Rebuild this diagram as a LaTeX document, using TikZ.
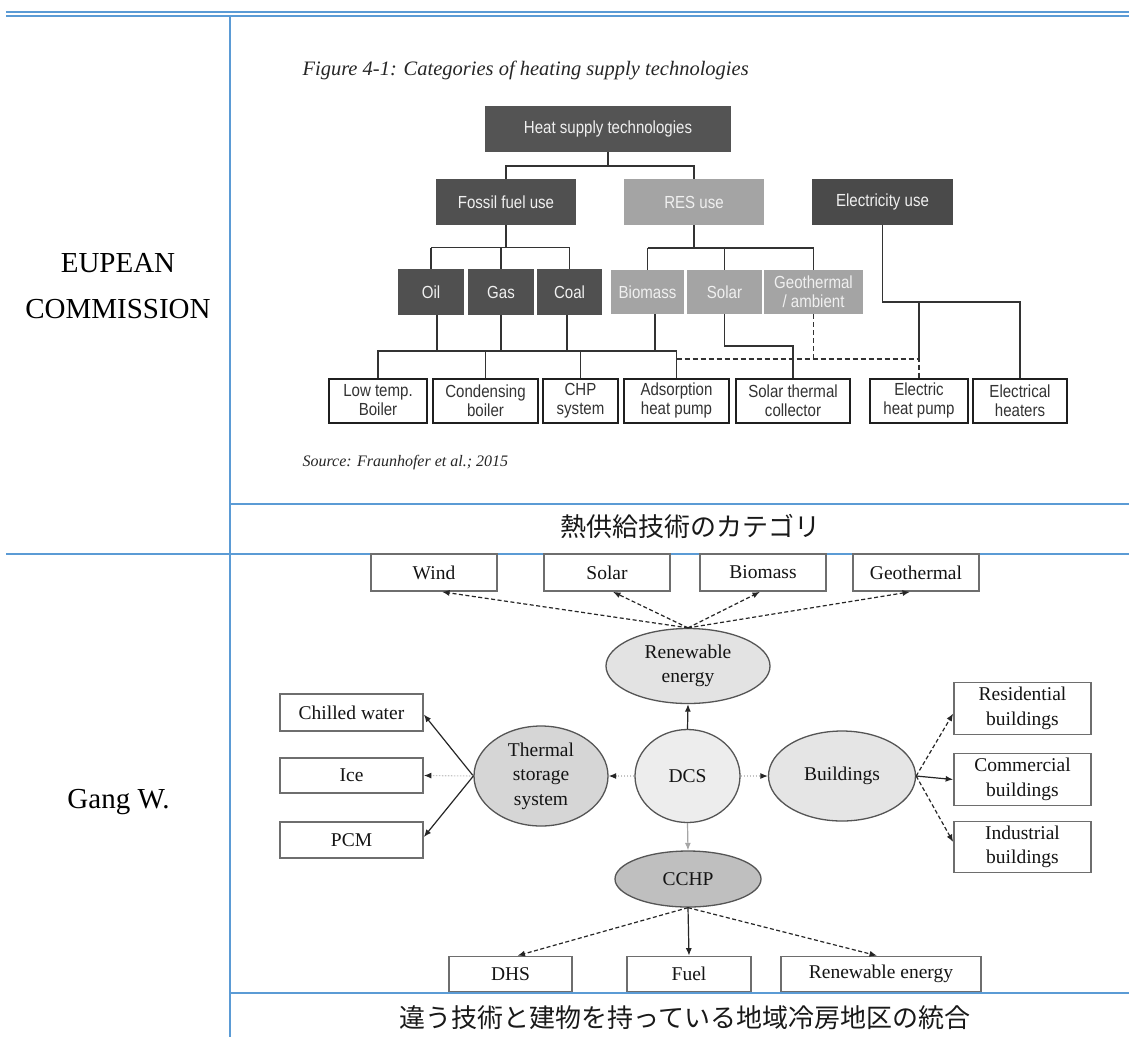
\documentclass[tikz,border=0pt]{standalone}
\usepackage{fontspec}
\setmainfont{Liberation Serif}
\newfontfamily\figsans[FakeStretch=0.86]{Liberation Sans}
\newfontfamily\jpfont{Noto Sans CJK JP}
\usetikzlibrary{shapes.geometric,arrows.meta,calc}

\definecolor{rulecol}{HTML}{5B9BD5}
\definecolor{darkfill}{HTML}{545454}
\definecolor{lightfill}{HTML}{A4A4A4}
\definecolor{treeline}{HTML}{333333}
\definecolor{lborder}{HTML}{6E6E6E}
\definecolor{ltext}{HTML}{141414}
\definecolor{ellborder}{HTML}{555555}
\definecolor{faint}{HTML}{C4C4C4}

\tikzset{
  x=1pt, y=-1pt,
  tablerule/.style={draw=rulecol, line width=#1},
  catbox/.style={fill=#1, draw=none, text=white!94!black, inner sep=0,
    minimum height=46, align=center,
    font=\figsans\fontsize{17.5}{19}\selectfont},
  techbox/.style={draw=black!88, line width=2, fill=white, text=black!80,
    inner sep=0, minimum height=44, align=center,
    font=\figsans\fontsize{17.5}{19}\selectfont},
  tree/.style={draw=treeline, line width=1.3},
  treedash/.style={draw=treeline, line width=1.3, dash pattern=on 5pt off 3pt},
  lbox/.style={draw=lborder, line width=1.7, fill=white, text=ltext,
    inner sep=0, minimum height=37, align=center,
    font=\fontsize{19.5}{24.5}\selectfont},
  lell/.style={ellipse, draw=ellborder, line width=1.3, fill=#1, text=ltext,
    inner sep=0, align=center, font=\fontsize{19.5}{24.5}\selectfont},
  tip/.style={-{Latex[length=7.5pt,width=6pt]}},
  solidarrow/.style={tip, draw=black!85, line width=1.2},
  dasharrow/.style={tip, draw=black!85, line width=1.2, dash pattern=on 4pt off 2.5pt},
  faintarrow/.style={-{Latex[length=7.5pt,width=6pt,color=black!85]}, draw=faint,
    line width=1.1, dash pattern=on 1.5pt off 1.5pt},
  greyarrow/.style={-{Latex[length=7.5pt,width=6pt]}, draw=black!35, line width=1.2},
  lefttext/.style={font=\fontsize{29}{34}\selectfont, text=black, anchor=base},
  captext/.style={font=\jpfont\fontsize{26}{30}\selectfont, text=black!90, anchor=base},
}

\begin{document}
\begin{tikzpicture}
\useasboundingbox[fill=white] (0,0) rectangle (1129,1037);

% ---------- table rules ----------
\draw[tablerule=1.4] (6,12) -- (1129,12);
\draw[tablerule=2.6] (6,15.8) -- (1129,15.8);
\draw[tablerule=2.2] (229.7,16) -- (229.7,1037);
\draw[tablerule=2] (230,503.5) -- (1129,503.5);
\draw[tablerule=2] (6,553.5) -- (1129,553.5);
\draw[tablerule=2] (230,993.3) -- (1129,993.3);

% ---------- left column ----------
\node[lefttext] (eu1) at (118,272) {EUPEAN};
\node[lefttext] (eu2) at (118,318) {COMMISSION};
\node[lefttext] (gang) at (118.5,808) {Gang W.};

% ---------- captions ----------
\node[captext] (cap1) at (690,536) {熱供給技術のカテゴリ};
\node[captext] (cap2) at (685,1027) {違う技術と建物を持っている地域冷房地区の統合};

% ---------- heat supply tree ----------
\node[anchor=base west, font=\itshape\fontsize{20.5}{24}\selectfont, text=black!85]
  (figtitle) at (299,75) {Figure 4-1: Categories of heating supply technologies};
\node[anchor=base west, font=\itshape\fontsize{16}{19}\selectfont, text=black!85]
  (source) at (299,466) {Source: Fraunhofer et al.; 2015};

\node[catbox=darkfill, minimum width=246] (heat) at (608,129) {Heat supply technologies};
\node[catbox=darkfill!95!black, minimum width=140] (fossil) at (506,202) {Fossil fuel use};
\node[catbox=lightfill, minimum width=140] (res) at (694,202) {RES use};
\node[catbox=darkfill!88!black, minimum width=141] (elec) at (882.5,202) {Electricity use};

\node[catbox=darkfill!95!black, minimum width=66] (oil) at (431,292) {Oil};
\node[catbox=darkfill!95!black, minimum width=66] (gas) at (501,292) {Gas};
\node[catbox=darkfill!95!black, minimum width=65] (coal) at (569.5,292) {Coal};
\node[catbox=lightfill, minimum width=73, minimum height=44] (biomass) at (647.5,292) {Biomass};
\node[catbox=lightfill, minimum width=75, minimum height=44] (solar) at (724.5,292) {Solar};
\node[catbox=lightfill, minimum width=99, minimum height=44] (geo) at (813.5,292) {Geothermal\\/ ambient};

\node[techbox, minimum width=98] (lowtemp) at (378,400.5) {Low temp.\\Boiler};
\node[techbox, minimum width=105] (cond) at (485.5,400.5) {Condensing\\boiler};
\node[techbox, minimum width=75] (chp) at (580.5,400.5) {CHP\\system};
\node[techbox, minimum width=105] (adsorp) at (676.5,400.5) {Adsorption\\heat pump};
\node[techbox, minimum width=114] (stc) at (793,400.5) {Solar thermal\\collector};
\node[techbox, minimum width=98] (ehp) at (919,400.5) {Electric\\heat pump};
\node[techbox, minimum width=94] (eheat) at (1020,400.5) {Electrical\\heaters};

% top level branches
\coordinate (jh) at (608,166);
\draw[tree] (heat.south) -- (jh);
\draw[tree] (jh) -| (fossil.north);
\draw[tree] (jh) -| (res.north);

% fossil fuels
\coordinate (jf) at (506,247.5);
\draw[tree] (fossil.south) -- (jf);
\draw[tree] (oil.north |- jf) -- (coal.north |- jf);
\draw[tree] (oil.north |- jf) -- (oil.north);
\draw[tree] (gas.north |- jf) -- (gas.north);
\draw[tree] (coal.north |- jf) -- (coal.north);

% renewables
\coordinate (jr) at (694,248);
\draw[tree] (res.south) -- (jr);
\draw[tree] (biomass.north |- jr) -- (geo.north |- jr);
\draw[tree] (biomass.north |- jr) -- (biomass.north);
\draw[tree] (solar.north |- jr) -- (solar.north);
\draw[tree] (geo.north |- jr) -- (geo.north);

% fuel-based technologies bus
\coordinate (bus) at (0,351);
\coordinate (oilx) at (437,351);
\coordinate (coalx) at (567,351);
\coordinate (bioxx) at (655,351);
\draw[tree] (oil.south -| oilx) -- (oilx);
\draw[tree] (gas.south) -- (gas.south |- bus);
\draw[tree] (coal.south -| coalx) -- (coalx);
\draw[tree] (biomass.south -| bioxx) -- (bioxx);
\draw[tree] (lowtemp.north) -- (lowtemp.north |- bus) -- (adsorp.north |- bus) -- (adsorp.north);
\draw[tree] (cond.north) -- (cond.north |- bus);
\draw[tree] (chp.north) -- (chp.north |- bus);

% solar thermal
\coordinate (sj) at (793,346);
\draw[tree] (solar.south) |- (sj) -- (stc.north);

% geothermal / ambient (dashed)
\coordinate (gj) at (813.5,359);
\draw[treedash] (geo.south) -- (gj);
\draw[treedash] (adsorp.north |- gj) -- (ehp.north |- gj) -- (ehp.north);

% electricity
\coordinate (ej) at (882.5,302);
\draw[tree] (elec.south) -- (ej) -- (eheat.north |- ej) -- (eheat.north);
\draw[tree] (ehp.north |- ej) -- (ehp.north |- gj);

% ---------- district cooling system ----------
\node[lbox, minimum width=126] (wind) at (434,572.5) {Wind};
\node[lbox, minimum width=126] (solarb) at (607,572.5) {Solar};
\node[lbox, minimum width=126] (biob) at (763,572.5) {Biomass};
\node[lbox, minimum width=126] (geob) at (916,572.5) {Geothermal};

\node[lell=black!11, minimum width=164, minimum height=75] (renew) at (688,666) {Renewable\\energy};
\node[lell=black!7, minimum width=105, minimum height=93] (dcs) at (687.5,776) {DCS};
\node[lell=black!16, minimum width=134, minimum height=100] (thermal) at (541,776) {Thermal\\storage\\system};
\node[lell=black!10, minimum width=147, minimum height=90] (bldg) at (842,776) {Buildings};
\node[lell=black!25, minimum width=146, minimum height=56] (cchp) at (688,879) {CCHP};

\node[lbox, minimum width=143] (chilled) at (351.5,712.5) {Chilled water};
\node[lbox, minimum width=143, minimum height=35] (ice) at (351.5,775.5) {Ice};
\node[lbox, minimum width=143, minimum height=36] (pcm) at (351.5,840) {PCM};

\node[lbox, minimum width=137, minimum height=52] (resid) at (1022.5,708.5) {Residential\\buildings};
\node[lbox, minimum width=137, minimum height=52] (comm) at (1022.5,779.5) {Commercial\\buildings};
\node[lbox, minimum width=137, minimum height=51] (indus) at (1022.5,847) {Industrial\\buildings};

\node[lbox, minimum width=123, minimum height=35] (dhs) at (510.5,974) {DHS};
\node[lbox, minimum width=124, minimum height=35] (fuel) at (689,974) {Fuel};
\node[lbox, minimum width=200, minimum height=35] (renewb) at (881,974) {Renewable energy};

% renewable sources
\draw[dasharrow] (renew.north) -- ($(wind.south)+(8,0)$);
\draw[dasharrow] (renew.north) -- ($(solarb.south)+(6,0)$);
\draw[dasharrow] (renew.north) -- ($(biob.south)+(-3,0)$);
\draw[dasharrow] (renew.north) -- ($(geob.south)+(-6,0)$);
\draw[solidarrow] (dcs.north) -- (renew.south);

% DCS links
\draw[faintarrow] (dcs.west) -- (thermal.east);
\draw[faintarrow] (dcs.east) -- (bldg.west);
\draw[greyarrow] (dcs.south) -- (cchp.north);

% thermal storage options
\draw[solidarrow] (thermal.west) -- ($(chilled.east)+(0,2)$);
\draw[faintarrow] (thermal.west) -- (ice.east);
\draw[solidarrow] (thermal.west) -- ($(pcm.east)+(0,-3)$);

% building types
\draw[dasharrow] (bldg.east) -- ($(resid.west)+(0,5)$);
\draw[solidarrow] (bldg.east) -- (comm.west);
\draw[dasharrow] (bldg.east) -- ($(indus.west)+(0,-5)$);

% CCHP outputs
\draw[dasharrow] (cchp.south) -- ($(dhs.north)+(7,0)$);
\draw[solidarrow] (cchp.south) -- (fuel.north);
\draw[dasharrow] (cchp.south) -- ($(renewb.north)+(-4,0)$);

\end{tikzpicture}
\end{document}
